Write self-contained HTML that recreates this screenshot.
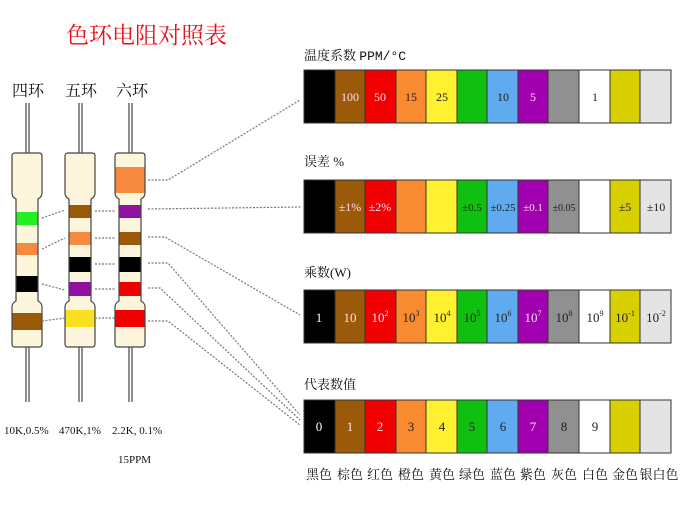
<!DOCTYPE html>
<html><head><meta charset="utf-8"><style>
body{margin:0;background:#fff;width:680px;height:510px;overflow:hidden}
text{font-family:"Liberation Serif","Noto Serif CJK SC",serif}
</style></head><body>
<svg width="680" height="510" viewBox="0 0 680 510" xmlns="http://www.w3.org/2000/svg">
<text x="66" y="43" font-size="23" fill="#e8101a" font-family="'Noto Serif CJK SC',serif">色环电阻对照表</text>
<g font-size="16" fill="#111" font-family="'Noto Sans CJK SC',sans-serif">
<text x="12" y="96">四环</text><text x="65" y="96">五环</text><text x="116" y="96">六环</text>
</g>
<!-- leads -->
<g stroke="#444" stroke-width="1.2">
<line x1="26" y1="103" x2="26" y2="153"/><line x1="29" y1="103" x2="29" y2="153"/>
<line x1="26" y1="347" x2="26" y2="402"/><line x1="29" y1="347" x2="29" y2="402"/>
<line x1="79" y1="103" x2="79" y2="153"/><line x1="82" y1="103" x2="82" y2="153"/>
<line x1="79" y1="347" x2="79" y2="402"/><line x1="82" y1="347" x2="82" y2="402"/>
<line x1="129" y1="103" x2="129" y2="153"/><line x1="132" y1="103" x2="132" y2="153"/>
<line x1="129" y1="347" x2="129" y2="402"/><line x1="132" y1="347" x2="132" y2="402"/>
</g>
<defs>
<path id="body" d="M3,0 H27 Q30,0 30,3 V40 Q30,44 26,46 V148 Q30,150 30,154 V191 Q30,194 27,194 H3 Q0,194 0,191 V154 Q0,150 4,148 V46 Q0,44 0,40 V3 Q0,0 3,0 Z"/>
<clipPath id="cb"><use href="#body"/></clipPath>
</defs>
<g transform="translate(12,153)">
<use href="#body" fill="#fdf6dc"/>
<g clip-path="url(#cb)">
<rect x="0" y="59" width="30" height="13" fill="#22f022"/>
<rect x="0" y="90" width="30" height="12" fill="#f68a40"/>
<rect x="0" y="123" width="30" height="16" fill="#000"/>
<rect x="0" y="160" width="30" height="17" fill="#9b5a0a"/>
</g>
<use href="#body" fill="none" stroke="#444" stroke-width="1.2"/>
</g>
<g transform="translate(65,153)">
<use href="#body" fill="#fdf6dc"/>
<g clip-path="url(#cb)">
<rect x="0" y="52" width="30" height="13" fill="#9b5a0a"/>
<rect x="0" y="79" width="30" height="13" fill="#f68a40"/>
<rect x="0" y="104" width="30" height="15" fill="#000"/>
<rect x="0" y="129" width="30" height="14" fill="#9010a0"/>
<rect x="0" y="157" width="30" height="17" fill="#f8e020"/>
</g>
<use href="#body" fill="none" stroke="#444" stroke-width="1.2"/>
</g>
<g transform="translate(115,153)">
<use href="#body" fill="#fdf6dc"/>
<g clip-path="url(#cb)">
<rect x="0" y="14" width="31" height="26" fill="#f68a40"/>
<rect x="0" y="52" width="31" height="13" fill="#9010a0"/>
<rect x="0" y="79" width="31" height="13" fill="#9b5a0a"/>
<rect x="0" y="104" width="31" height="15" fill="#000"/>
<rect x="0" y="129" width="31" height="14" fill="#f00000"/>
<rect x="0" y="157" width="31" height="17" fill="#f00000"/>
</g>
<use href="#body" fill="none" stroke="#444" stroke-width="1.2"/>
</g>
<g font-size="11" fill="#111">
<text x="4" y="434">10K,0.5%</text><text x="59" y="434">470K,1%</text><text x="112" y="434">2.2K, 0.1%</text>
<text x="118" y="463">15PPM</text>
</g>
<!-- connectors -->
<g stroke="#777" stroke-width="1.2" stroke-dasharray="2,1.5" fill="none">
<polyline points="42,218 65,210"/><polyline points="42,249 65,238"/><polyline points="42,284 65,290"/><polyline points="42,321 65,318"/>
<polyline points="95,211 115,211"/><polyline points="95,238 115,238"/><polyline points="95,264 115,264"/><polyline points="95,289 115,289"/><polyline points="95,318 115,318"/>
<polyline points="148,180 168,180 300,100"/>
<polyline points="148,209 302,207"/>
<polyline points="148,237 165,237 300,315"/>
<polyline points="148,263 168,263 300,415"/>
<polyline points="148,288 160,288 300,420"/>
<polyline points="148,321 168,321 300,425"/>
</g>
<g font-size="13" fill="#111" font-family="'Noto Sans CJK SC',sans-serif">
<text x="304" y="60">温度系数 <tspan font-family="'Liberation Mono',monospace">PPM/°C</tspan></text>
<text x="304" y="166">误差 %</text>
<text x="304" y="277">乘数(W)</text>
<text x="304" y="389">代表数值</text>
</g>
<g id="rows" font-family="'Liberation Sans',sans-serif" font-size="12" text-anchor="middle"></g>
<g font-size="13" fill="#111" font-family="'Noto Sans CJK SC',sans-serif" text-anchor="middle">
<text x="319" y="479">黑色</text><text x="350" y="479">棕色</text><text x="380" y="479">红色</text><text x="411" y="479">橙色</text><text x="442" y="479">黄色</text><text x="472" y="479">绿色</text><text x="503" y="479">蓝色</text><text x="533" y="479">紫色</text><text x="564" y="479">灰色</text><text x="595" y="479">白色</text><text x="625" y="479">金色</text><text x="659" y="479">银白色</text>
</g>
<!-- table rows -->
<g stroke="#333" stroke-width="1">
<g id="r1" transform="translate(0,70)">
<rect x="304" y="0" width="31" height="53" fill="#000"/><rect x="335" y="0" width="30" height="53" fill="#9b5a0a"/><rect x="365" y="0" width="31" height="53" fill="#f00000"/><rect x="396" y="0" width="30" height="53" fill="#f88a30"/><rect x="426" y="0" width="31" height="53" fill="#fff030"/><rect x="457" y="0" width="30" height="53" fill="#10c010"/><rect x="487" y="0" width="31" height="53" fill="#60aaf0"/><rect x="518" y="0" width="30" height="53" fill="#a000b0"/><rect x="548" y="0" width="31" height="53" fill="#909090"/><rect x="579" y="0" width="31" height="53" fill="#fff"/><rect x="610" y="0" width="30" height="53" fill="#d8d000"/><rect x="640" y="0" width="31" height="53" fill="#e4e4e4"/>
</g>
<use href="#r1" transform="translate(0,110)"/>
<use href="#r1" transform="translate(0,220)"/>
<use href="#r1" transform="translate(0,330)"/>
</g>
<g font-size="12" text-anchor="middle" font-family="'Liberation Sans',sans-serif">
<text x="350" y="101" fill="#fde">100</text><text x="380" y="101" fill="#fde">50</text><text x="411" y="101" fill="#222">15</text><text x="442" y="101" fill="#222">25</text><text x="503" y="101" fill="#222">10</text><text x="533" y="101" fill="#fde">5</text><text x="595" y="101" fill="#222">1</text>
<text x="350" y="211" fill="#fde">±1%</text><text x="380" y="211" fill="#fde">±2%</text><text x="472" y="211" fill="#222" font-size="11">±0.5</text><text x="503" y="211" fill="#222" font-size="11">±0.25</text><text x="533" y="211" fill="#fde" font-size="11">±0.1</text><text x="564" y="211" fill="#222" font-size="10">±0.05</text><text x="625" y="211" fill="#222">±5</text><text x="656" y="211" fill="#222">±10</text>
</g>
<g font-size="13" text-anchor="middle" font-family="'Liberation Serif',serif">
<text x="319" y="322" fill="#fff">1</text><text x="350" y="322" fill="#fde">10</text>
<text x="380" y="322" fill="#fde">10<tspan dy="-6" font-size="8">2</tspan></text>
<text x="411" y="322" fill="#222">10<tspan dy="-6" font-size="8">3</tspan></text>
<text x="442" y="322" fill="#222">10<tspan dy="-6" font-size="8">4</tspan></text>
<text x="472" y="322" fill="#222">10<tspan dy="-6" font-size="8">5</tspan></text>
<text x="503" y="322" fill="#222">10<tspan dy="-6" font-size="8">6</tspan></text>
<text x="533" y="322" fill="#fde">10<tspan dy="-6" font-size="8">7</tspan></text>
<text x="564" y="322" fill="#222">10<tspan dy="-6" font-size="8">8</tspan></text>
<text x="595" y="322" fill="#222">10<tspan dy="-6" font-size="8">9</tspan></text>
<text x="625" y="322" fill="#222">10<tspan dy="-6" font-size="8">-1</tspan></text>
<text x="656" y="322" fill="#222">10<tspan dy="-6" font-size="8">-2</tspan></text>
</g>
<g font-size="13" text-anchor="middle" font-family="'Liberation Sans',sans-serif">
<text x="319" y="431" fill="#fff">0</text><text x="350" y="431" fill="#fde">1</text><text x="380" y="431" fill="#fde">2</text><text x="411" y="431" fill="#222">3</text><text x="442" y="431" fill="#222">4</text><text x="472" y="431" fill="#222">5</text><text x="503" y="431" fill="#222">6</text><text x="533" y="431" fill="#fde">7</text><text x="564" y="431" fill="#222">8</text><text x="595" y="431" fill="#222">9</text>
</g>
</svg>
</body></html>
